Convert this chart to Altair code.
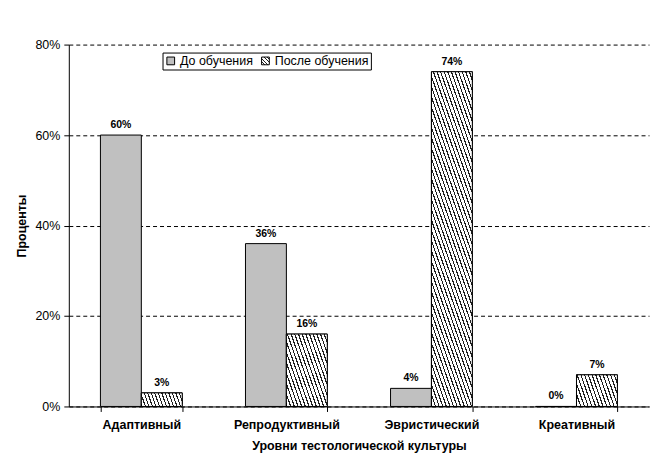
import altair as alt
import pandas as pd

categories = ["Адаптивный", "Репродуктивный", "Эвристический", "Креативный"]
series = ["До обучения", "После обучения"]
before = [60, 36, 4, 0]
after = [3, 16, 74, 7]

rows = []
for c, b, a in zip(categories, before, after):
    rows.append({"cat": c, "series": series[0], "value": b / 100})
    rows.append({"cat": c, "series": series[1], "value": a / 100})
df = pd.DataFrame(rows)

W, H = 582, 363
YMAX = 0.8
P_IN = 0.436
bar_w = W / 4 * (1 - P_IN) / 2
FONT = "Liberation Sans"
DARK = "#202020"


def stripe_stops(n, dark):
    stops = []
    for i in range(n):
        a = i / n
        m = (i + dark) / n
        e = (i + 1) / n
        stops += [
            {"offset": a, "color": DARK},
            {"offset": m, "color": DARK},
            {"offset": m, "color": "#ffffff"},
            {"offset": e, "color": "#ffffff"},
        ]
    return stops


def hatch(h, w=bar_w, period=3.6, dark=0.32, c=0.35):
    """Steep diagonal hatch as a bounding-box gradient."""
    h = max(h, 1.0)
    span = w + c * h
    k = span / (w * w + (c * h) ** 2)
    n = max(1, int(round(span / period)))
    return {
        "gradient": "linear",
        "x1": 0, "y1": 1,
        "x2": k * w, "y2": 1 - k * c * h,
        "stops": stripe_stops(n, dark),
    }


# legend swatch hatch (45 degrees) written as a Vega expression object
sw = stripe_stops(5, 0.3)
sw_expr = "{gradient:'linear',x1:0,y1:1,x2:1,y2:0,stops:[" + ",".join(
    "{offset:%.4f,color:'%s'}" % (s["offset"], s["color"]) for s in sw
) + "]}"

xenc = alt.X(
    "cat:N",
    sort=categories,
    scale=alt.Scale(paddingInner=P_IN, paddingOuter=P_IN / 2),
    axis=alt.Axis(
        title="Уровни тестологической культуры",
        labelAngle=0,
        tickBand="extent",
        labelFontWeight="bold",
        labelPadding=7,
        titlePadding=9,
    ),
)
yenc = alt.Y(
    "value:Q",
    scale=alt.Scale(domain=[0, YMAX]),
    axis=alt.Axis(
        title="Проценты",
        values=[0, 0.2, 0.4, 0.6, 0.8],
        format=".0%",
        grid=True,
        gridDash=[4, 3],
        gridColor="#000000",
        labelPadding=4,
        titleX=-47,
        titleY=H / 2,
        titleBaseline="middle",
    ),
)
xoff = alt.XOffset("series:N", sort=series, scale=alt.Scale(paddingInner=0, paddingOuter=0))

base = alt.Chart(df).mark_bar(stroke="#000000", strokeWidth=1).encode(
    x=xenc,
    y=yenc,
    xOffset=xoff,
    color=alt.Color(
        "series:N",
        sort=series,
        scale=alt.Scale(domain=series, range=["#c0c0c0", alt.ExprRef(sw_expr)]),
        legend=alt.Legend(
            title=None,
            orient="none",
            legendX=94,
            legendY=8,
            direction="horizontal",
            strokeColor="#000000",
            padding=2,
            symbolType="square",
            symbolSize=60,
            symbolStrokeColor="#000000",
            symbolStrokeWidth=1,
            symbolOffset=0,
            labelFontSize=12.5,
            labelOffset=3,
            columnPadding=6,
            fillColor="#ffffff",
        ),
    ),
)

layers = [base]
for c, a in zip(categories, after):
    h = a / 100 / YMAX * H
    layers.append(
        alt.Chart(df)
        .transform_filter((alt.datum.cat == c) & (alt.datum.series == series[1]))
        .mark_bar(stroke="#000000", strokeWidth=1, fill=hatch(h))
        .encode(x=xenc, y=yenc, xOffset=xoff)
    )

labels = alt.Chart(df).mark_text(
    baseline="bottom", dy=-5, fontWeight="bold", fontSize=10.5, font=FONT, color="#000000"
).encode(
    x=xenc,
    y=yenc,
    xOffset=xoff,
    text=alt.Text("value:Q", format=".0%"),
)
layers.append(labels)

chart = (
    alt.layer(*layers)
    .properties(
        width=W,
        height=H,
        autosize=alt.AutoSizeParams(type="none"),
        padding={"left": 61, "top": 36, "right": 5, "bottom": 52},
        background="#ffffff",
    )
    .configure_view(stroke=None)
    .configure_axis(
        domainColor="#000000",
        tickColor="#000000",
        tickSize=5,
        labelColor="#000000",
        labelFont=FONT,
        labelFontSize=12.5,
        titleFont=FONT,
        titleFontSize=12.5,
        titleFontWeight="bold",
        titleColor="#000000",
    )
    .configure_legend(labelFont=FONT, labelColor="#000000", strokeWidth=1)
)

chart.save("out.html", embed_options={"renderer": "svg", "actions": False})
